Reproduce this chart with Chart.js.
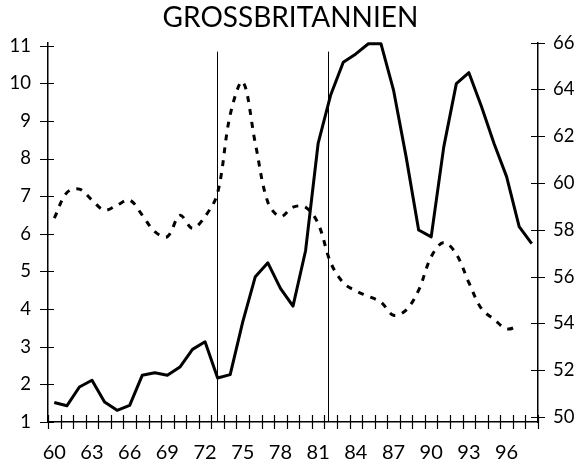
<!DOCTYPE html>
<html>
<head>
<meta charset="utf-8">
<script src="https://cdn.jsdelivr.net/npm/chart.js@4/dist/chart.umd.min.js"></script>
<style>
	html, body { margin: 0; padding: 0; background: #fff; }
	#wrap { width: 581px; height: 467px; position: relative; }
</style>
</head>
<body>
<div id="wrap"><canvas id="chart"></canvas></div>
<script>
	'use strict';

	// Jahre 1960–1998
	var years = ['60', '61', '62', '63', '64', '65', '66', '67', '68', '69',
		'70', '71', '72', '73', '74', '75', '76', '77', '78', '79',
		'80', '81', '82', '83', '84', '85', '86', '87', '88', '89',
		'90', '91', '92', '93', '94', '95', '96', '97', '98'];

	// linke Achse (durchgezogen)
	var solid = [1.52, 1.43, 1.93, 2.11, 1.53, 1.31, 1.44, 2.24, 2.31, 2.24,
		2.46, 2.93, 3.13, 2.17, 2.26, 3.66, 4.86, 5.23, 4.55, 4.08,
		5.55, 8.4, 9.69, 10.56, 10.78, 11.05, 11.05, 9.82, 8.05, 6.10,
		5.92, 8.31, 9.99, 10.28, 9.38, 8.40, 7.52, 6.19, 5.74];

	// rechte Achse (gestrichelt)
	var dashed = [58.50, 59.59, 59.74, 59.27, 58.84, 59.06, 59.27, 58.63, 57.92, 57.71,
		58.62, 58.07, 58.57, 59.58, 62.91, 64.33, 61.70, 59.18, 58.57, 58.97,
		58.97, 58.27, 56.60, 55.74, 55.39, 55.16, 54.91, 54.35, 54.57, 55.42,
		56.85, 57.46, 56.96, 55.74, 54.63, 54.18, 53.77, 53.90, null];

	var leftTicks = [1, 2, 3, 4, 5, 6, 7, 8, 9, 10, 11];
	var rightTicks = [50, 52, 54, 56, 58, 60, 62, 64, 66];

	// senkrechte Linien (Jahr, als Bruchteil)
	var markerYears = [72.93, 81.77];
	var markerTop = 10.84;

	var font = 'Lato, "Noto Sans", sans-serif';

	function keepTicks(list) {
		return function (scale) {
			scale.ticks = list.map(function (v) { return { value: v }; });
		};
	}

	// Teilstriche, die die Achse kreuzen, und die beiden senkrechten Linien
	var axisMarks = {
		id: 'axisMarks',
		afterDatasetsDraw: function (chart) {
			var c = chart.ctx;
			var x = chart.scales.x, y = chart.scales.y, y1 = chart.scales.y1;
			c.save();
			c.strokeStyle = '#000';
			c.lineWidth = 1.2;
			c.beginPath();
			for (var i = 0; i <= years.length; i++) {
				var px = Math.round(x.getPixelForValue(i - 0.5)) + 0.5;
				c.moveTo(px, x.top - 7);
				c.lineTo(px, x.top + 7);
			}
			y.ticks.forEach(function (t) {
				var py = Math.round(y.getPixelForValue(t.value)) + 0.5;
				c.moveTo(y.right - 8, py);
				c.lineTo(y.right + 6, py);
			});
			y1.ticks.forEach(function (t) {
				var py = Math.round(y1.getPixelForValue(t.value)) + 0.5;
				c.moveTo(y1.left - 7, py);
				c.lineTo(y1.left + 7, py);
			});
			c.stroke();

			c.lineWidth = 1;
			c.beginPath();
			markerYears.forEach(function (yr) {
				var mx = Math.round(x.getPixelForValue(yr - 60)) + 0.5;
				c.moveTo(mx, y.getPixelForValue(markerTop));
				c.lineTo(mx, y.getPixelForValue(1));
			});
			c.stroke();
			c.restore();
		}
	};

	new Chart(document.getElementById('chart'), {
		type: 'line',
		data: {
			labels: years,
			datasets: [
				{
					data: solid,
					yAxisID: 'y',
					borderColor: '#000',
					borderWidth: 3,
					pointRadius: 0,
					tension: 0,
					borderJoinStyle: 'round',
					clip: false,
				},
				{
					data: dashed,
					yAxisID: 'y1',
					borderColor: '#000',
					borderWidth: 3,
					borderDash: [6, 7],
					pointRadius: 0,
					tension: 0.35,
					clip: false,
				},
			],
		},
		options: {
			responsive: true,
			maintainAspectRatio: false,
			animation: false,
			events: [],
			layout: { padding: 0 },
			plugins: {
				legend: { display: false },
				tooltip: { enabled: false },
				title: {
					display: true,
					text: 'GROSSBRITANNIEN',
					color: '#000',
					font: { family: font, size: 28, weight: 'normal', lineHeight: 1.2 },
					padding: { top: 1, bottom: 8 },
				},
			},
			scales: {
				x: {
					offset: true,
					grid: { display: false, offset: true, drawTicks: false },
					border: { display: true, color: '#000', width: 1.5 },
					afterFit: function (s) { s.height = 45; },
					ticks: {
						autoSkip: false,
						maxRotation: 0,
						minRotation: 0,
						padding: 19,
						color: '#000',
						font: { family: font, size: 20 },
						callback: function (v, i) { return i % 3 === 0 ? years[i] : ''; },
					},
				},
				y: {
					position: 'left',
					min: 1,
					max: 11.08,
					afterBuildTicks: keepTicks(leftTicks),
					afterFit: function (s) { s.width = 48; },
					grid: { display: false, drawTicks: false },
					border: { display: true, color: '#000', width: 1.5 },
					ticks: {
						padding: 17,
						color: '#000',
						font: { family: font, size: 18.5 },
					},
				},
				y1: {
					position: 'right',
					min: 49.79,
					max: 66,
					afterBuildTicks: keepTicks(rightTicks),
					afterFit: function (s) { s.width = 43; },
					grid: { display: false, drawTicks: false },
					border: { display: true, color: '#000', width: 1.5 },
					ticks: {
						padding: 15,
						color: '#000',
						font: { family: font, size: 18.5 },
					},
				},
			},
		},
		plugins: [axisMarks],
	});
</script>
</body>
</html>
